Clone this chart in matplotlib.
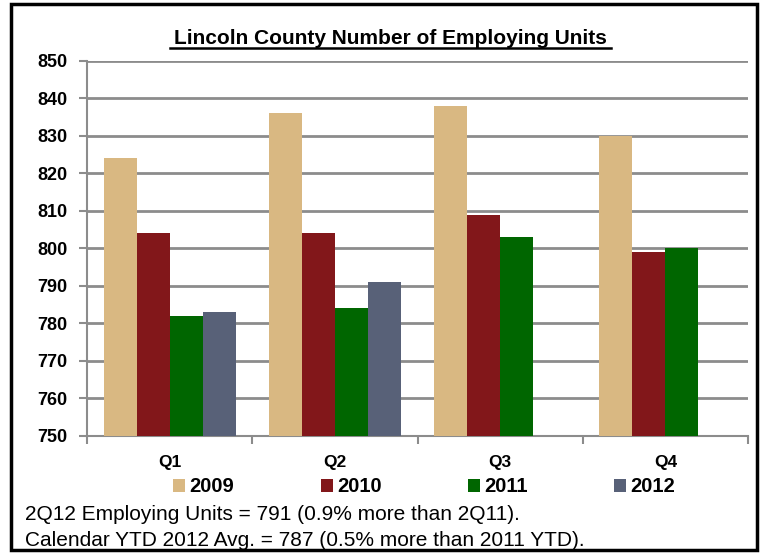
import numpy as np
import matplotlib.pyplot as plt
from matplotlib.patches import Rectangle

plt.rcParams['font.family'] = ['Liberation Sans', 'DejaVu Sans']

quarters = ['Q1', 'Q2', 'Q3', 'Q4']
years = ['2009', '2010', '2011', '2012']
units_2009 = [824, 836, 838, 830]
units_2010 = [804, 804, 809, 799]
units_2011 = [782, 784, 803, 800]
units_2012 = [783, 791, np.nan, np.nan]
colors = ['#D9B882', '#82171A', '#006600', '#586178']

fig = plt.figure(figsize=(7.64, 5.54), dpi=100)
ax = fig.add_axes([0.1139, 0.2130, 0.8652, 0.6769])

x = np.arange(len(quarters))
w = 0.2
series = [units_2009, units_2010, units_2011, units_2012]
for i, (vals, c, yr) in enumerate(zip(series, colors, years)):
    ax.bar(x + (i - 1.5) * w, np.array(vals) - 750, width=w, bottom=750,
           color=c, label=yr, zorder=3)

ax.set_ylim(750, 850)
ax.set_xlim(-0.5, 3.5)
ax.set_yticks(range(750, 851, 10))
ax.yaxis.grid(True, color='#8c8c8c', linewidth=2, zorder=0)
ax.set_xticks(x)
ax.set_xticklabels(quarters, fontsize=12.5, fontweight='bold')
ax.set_xticks(np.arange(-0.5, 4, 1), minor=True)
ax.tick_params(axis='x', which='major', length=0, pad=14)
ax.tick_params(axis='x', which='minor', length=6, color='#8c8c8c', width=1.5)
ax.tick_params(axis='y', length=6, color='#8c8c8c', width=1.5, labelsize=13, pad=8)
for lab in ax.get_yticklabels():
    lab.set_fontweight('bold')
for s in ['top', 'right']:
    ax.spines[s].set_visible(False)
ax.spines['left'].set_color('#8c8c8c')
ax.spines['left'].set_linewidth(1.5)
ax.spines['bottom'].set_color('#8c8c8c')
ax.spines['bottom'].set_linewidth(1.5)

fig.text(0.511, 0.931, 'Lincoln County Number of Employing Units',
         ha='center', va='center', fontsize=15, fontweight='bold')
# underline below the title
fig.add_artist(plt.Line2D([0.222, 0.800], [0.913, 0.913], color='black', linewidth=1.8))

leg = ax.legend(loc='center', bbox_to_anchor=(0.51, -0.136), ncol=4, frameon=False,
                prop={'weight': 'bold', 'size': 14.5}, handlelength=0.6,
                handleheight=0.6, handletextpad=0.2, columnspacing=4.3)

fig.text(0.033, 0.072, '2Q12 Employing Units = 791 (0.9% more than 2Q11).', fontsize=15,
         va='center')
fig.text(0.033, 0.025, 'Calendar YTD 2012 Avg. = 787 (0.5% more than 2011 YTD).', fontsize=15,
         va='center')

fig.add_artist(Rectangle((0.0144, 0.008), 0.977, 0.985, transform=fig.transFigure,
                         fill=False, edgecolor='black', linewidth=2.5))

plt.savefig('out.png', dpi=100)
